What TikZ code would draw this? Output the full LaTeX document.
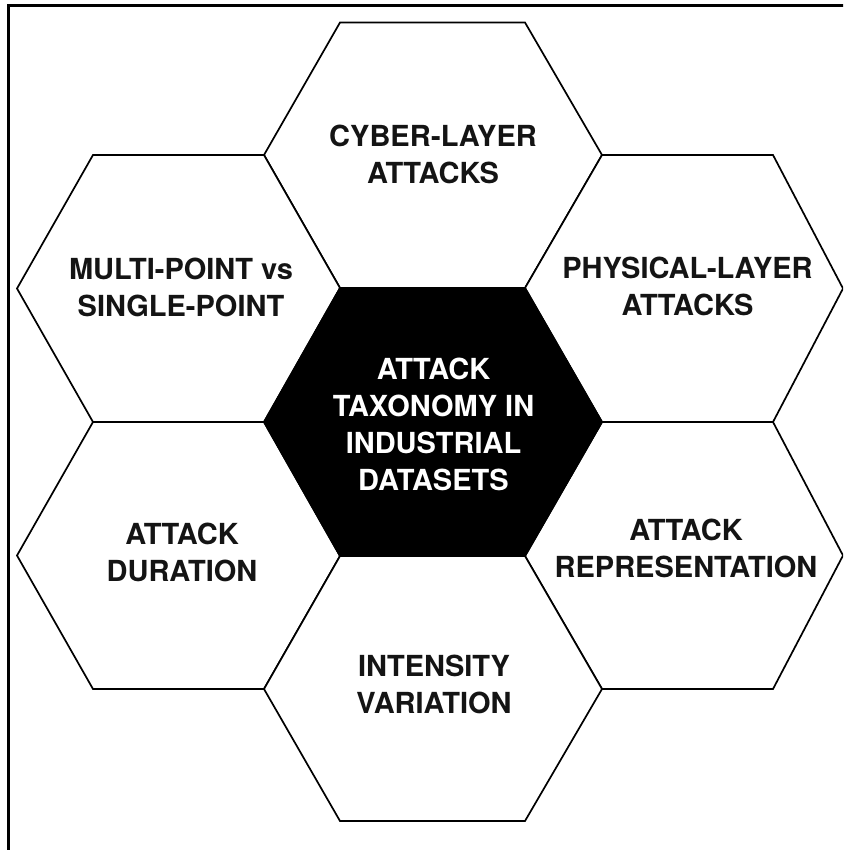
\documentclass[tikz,border=0pt]{standalone}
\usepackage{fontspec}
\setmainfont{TeX Gyre Heros}
\begin{document}
\begin{tikzpicture}[x=1pt,y=-1pt,
  cell/.style={draw=black, line width=1.7pt, line join=miter, fill=white},
  core/.style={draw=black, line width=1.7pt, line join=miter, fill=black},
  label/.style={align=center, inner sep=0pt, text=black!92,
    font=\fontsize{29}{37}\selectfont\bfseries},
  corelabel/.style={label, text=white}]
  \useasboundingbox (0,0) rectangle (843,850);
  \clip (0,0) rectangle (843,850);

  % frame (left and top edges)
  \draw[line width=2.2pt] (8.5,851) -- (8.5,5.5) -- (844,5.5);

  % outer ring of hexagonal cells
  \draw[cell] (264,155) -- (340,22.5) -- (525,22.5) -- (602,155) -- (525,288) -- (340,288) -- cycle;
  \draw[cell] (17,288.5) -- (93,155) -- (264,155) -- (340,288) -- (264,422) -- (93,422) -- cycle;
  \draw[cell] (525,288) -- (602,155) -- (773,155) -- (843,288.5) -- (773,422) -- (602,422) -- cycle;
  \draw[cell] (17,555.5) -- (93,422) -- (264,422) -- (340,556) -- (264,689) -- (93,689) -- cycle;
  \draw[cell] (525,556) -- (602,422) -- (773,422) -- (843,555.5) -- (773,689) -- (602,689) -- cycle;
  \draw[cell] (264,689) -- (340,556) -- (525,556) -- (602,689) -- (525,821) -- (340,821) -- cycle;

  % central cell
  \draw[core] (264,422) -- (340,288) -- (525,288) -- (602,422) -- (525,556) -- (340,556) -- cycle;

  % labels
  \node[corelabel] (center) at (433.5,424) {ATTACK\\TAXONOMY IN\\INDUSTRIAL\\DATASETS};
  \node[label] (cyber) at (433,154) {CYBER-LAYER\\ATTACKS};
  \node[label] (multi) at (181,287.5) {MULTI-POINT vs\\SINGLE-POINT};
  \node[label] (phys) at (687.5,286) {PHYSICAL-LAYER\\ATTACKS};
  \node[label] (dur) at (182,552.5) {ATTACK\\DURATION};
  \node[label] (repr) at (686,548) {ATTACK\\REPRESENTATION};
  \node[label] (inten) at (434,684) {INTENSITY\\VARIATION};
\end{tikzpicture}
\end{document}
